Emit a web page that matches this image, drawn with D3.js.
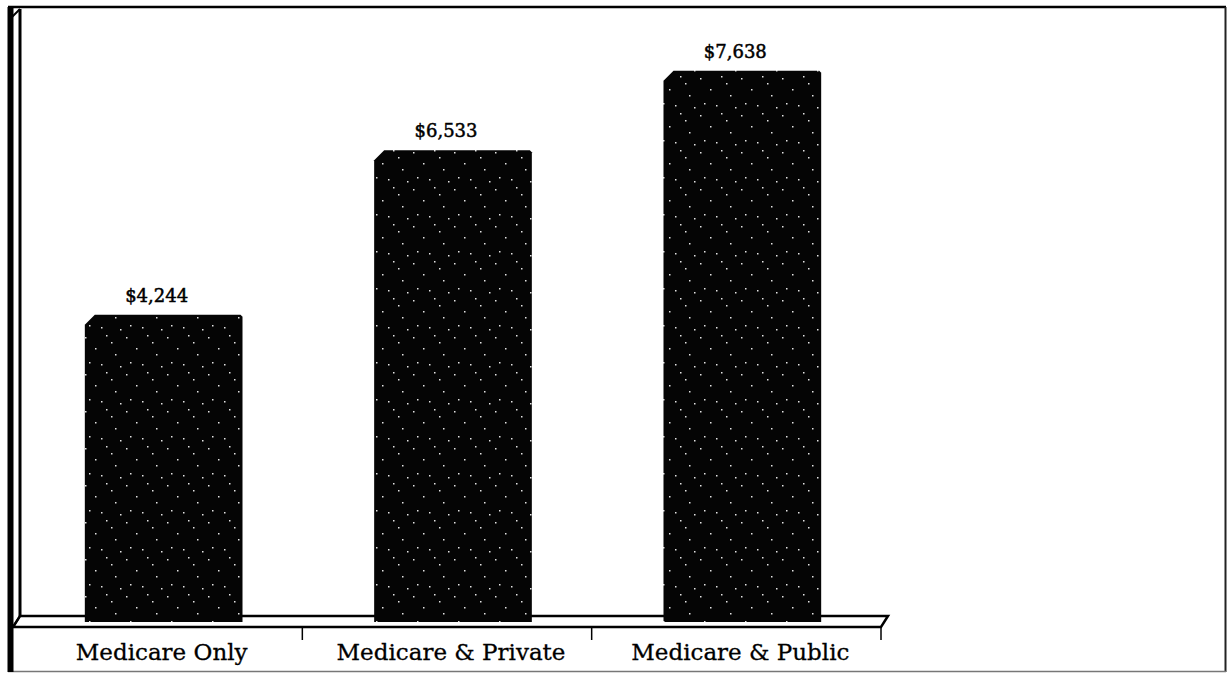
<!DOCTYPE html>
<meta charset="utf-8">
<style>
    body { margin: 0; background: #fff; }
    svg { display: block; }
    .val { font-family: "DejaVu Serif", serif; font-size: 18px; fill: #000; stroke: #000; stroke-width: 0.5px; }
    .cat text { font-family: "DejaVu Serif", serif; font-size: 23px; fill: #000; stroke: #000; stroke-width: 0.3px; }
</style>
<body>
    <svg width="1229" height="674"></svg>
    <script src="https://cdn.jsdelivr.net/npm/d3@7"></script>
    <script>
        // values
        var categories = ["Medicare Only", "Medicare & Private", "Medicare & Public"];
        var values = [4244, 6533, 7638];
        var valueLabels = ["$4,244", "$6,533", "$7,638"];

        var svg = d3.select("svg"),
            floorY = 620;

        var x = d3.scaleBand().domain(categories).range([13, 881]).paddingInner(0).paddingOuter(0);
        var y = d3.scaleLinear().domain([0, 8345]).range([floorY, 20]);

        var barW = x.bandwidth() * 0.545;

        // sparse speckle texture for the scanned look
        var pat = svg.append("defs").append("pattern")
            .attr("id", "speck")
            .attr("patternUnits", "userSpaceOnUse")
            .attr("width", 41).attr("height", 37);
        pat.append("rect").attr("width", 41).attr("height", 37).attr("fill", "#050505");
        [[3, 4], [24, 2], [13, 15], [33, 21], [7, 29], [29, 9], [19, 31], [38, 33]].forEach(function (p) {
            pat.append("rect").attr("x", p[0]).attr("y", p[1]).attr("width", 1.5).attr("height", 1.5).attr("fill", "#e4e4e4");
        });

        // outer frame
        svg.append("line").attr("x1", 8).attr("x2", 1226).attr("y1", 7).attr("y2", 7)
            .attr("stroke", "#000").attr("stroke-width", 2.5);
        svg.append("line").attr("x1", 1225.5).attr("x2", 1225.5).attr("y1", 7).attr("y2", 672)
            .attr("stroke", "#222").attr("stroke-width", 2);
        svg.append("line").attr("x1", 8).attr("x2", 1226).attr("y1", 671.5).attr("y2", 671.5)
            .attr("stroke", "#777").attr("stroke-width", 1.5);
        svg.append("line").attr("x1", 10.5).attr("x2", 10.5).attr("y1", 7).attr("y2", 672)
            .attr("stroke", "#000").attr("stroke-width", 6);

        // left wall and floor
        var wall = svg.append("g").attr("fill", "none").attr("stroke", "#000");
        wall.append("line").attr("x1", 20).attr("x2", 20).attr("y1", 9).attr("y2", floorY - 4).attr("stroke-width", 3);
        wall.append("line").attr("x1", 11).attr("y1", 18).attr("x2", 20).attr("y2", 9).attr("stroke-width", 2);
        wall.append("path")
            .attr("d", "M20," + (floorY - 4) + "L888," + (floorY - 4) + "L881," + (floorY + 7) + "L13," + (floorY + 7) + "Z")
            .attr("stroke-width", 2.5).attr("fill", "#fff");
        wall.append("line").attr("x1", 20).attr("y1", floorY - 4).attr("x2", 13).attr("y2", floorY + 7).attr("stroke-width", 2);

        // category boundary ticks
        svg.append("g").selectAll("line")
            .data(categories)
            .join("line")
            .attr("x1", function (d) { return x(d) + x.bandwidth(); })
            .attr("x2", function (d) { return x(d) + x.bandwidth(); })
            .attr("y1", floorY + 7)
            .attr("y2", floorY + 20)
            .attr("stroke", "#000").attr("stroke-width", 1.5);

        // bars with a chamfered top-left edge
        svg.append("g").selectAll("path")
            .data(values)
            .join("path")
            .attr("fill", "url(#speck)")
            .attr("d", function (d, i) {
                var cx = x(categories[i]) + x.bandwidth() / 2 + 6,
                    x0 = cx - barW / 2, x1 = cx + barW / 2, top = y(d);
                return "M" + x0 + "," + (top + 10) + "L" + (x0 + 10) + "," + top + "L" + (x1 - 2) + "," + top +
                    "L" + x1 + "," + (top + 2) + "L" + x1 + "," + (floorY + 2) + "L" + x0 + "," + (floorY + 2) + "Z";
            });

        // value labels
        svg.append("g").selectAll("text")
            .data(values)
            .join("text")
            .attr("class", "val")
            .attr("text-anchor", "middle")
            .attr("x", function (d, i) { return x(categories[i]) + x.bandwidth() / 2 - 1; })
            .attr("y", function (d) { return y(d) - 13; })
            .text(function (d, i) { return valueLabels[i]; });

        // category labels
        var axis = svg.append("g")
            .attr("class", "cat")
            .attr("transform", "translate(4," + (floorY + 7) + ")")
            .call(d3.axisBottom(x).tickSize(0).tickPadding(17));
        axis.select(".domain").remove();
    </script>
</body>
